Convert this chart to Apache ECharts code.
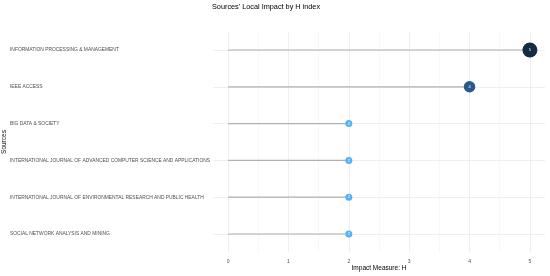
<!DOCTYPE html>
<html>
<head>
    <meta charset="utf-8">
    <script src="https://cdn.jsdelivr.net/npm/echarts@6/dist/echarts.min.js"></script>
    <style>
        html, body { margin: 0; padding: 0; background: #fff; }
        #main { width: 550px; height: 276px; }
    </style>
</head>
<body>
    <div id="main"></div>
    <script>
        // data
        var sources = [
            'INFORMATION PROCESSING & MANAGEMENT',
            'IEEE ACCESS',
            'BIG DATA & SOCIETY',
            'INTERNATIONAL JOURNAL OF ADVANCED COMPUTER SCIENCE AND APPLICATIONS',
            'INTERNATIONAL JOURNAL OF ENVIRONMENTAL RESEARCH AND PUBLIC HEALTH',
            'SOCIAL NETWORK ANALYSIS AND MINING'
        ];
        var hIndex = [5, 4, 2, 2, 2, 2];
        var xTicks = [0, 1, 2, 3, 4, 5];
        var xMinorTicks = [0.5, 1.5, 2.5, 3.5, 4.5];

        // ggplot-like gradient from 2 (light blue) to 5 (navy)
        function dotColor(v) {
            if (v >= 5) return '#132B43';
            if (v >= 4) return '#2A5A86';
            if (v >= 3) return '#3D85BD';
            return '#56B1F7';
        }
        function dotSize(v) {
            if (v >= 5) return 15;
            if (v >= 4) return 11.5;
            return 7;
        }

        var myChart = echarts.init(document.getElementById('main'));

        var option = {
            animation: false,
            backgroundColor: '#fff',
            title: {
                text: "Sources' Local Impact by H index",
                left: 212,
                top: 3,
                padding: 0,
                textStyle: { fontSize: 7.3, fontWeight: 'normal', color: '#000', fontFamily: 'Liberation Sans' }
            },
            // y axis title
            graphic: [{
                type: 'text',
                x: 1,
                y: 142,
                rotation: Math.PI / 2,
                style: {
                    text: 'Sources',
                    fontSize: 6.5,
                    fontFamily: 'Liberation Sans',
                    fill: '#000',
                    align: 'center',
                    verticalAlign: 'top'
                }
            }],
            grid: { left: 213, right: 5, top: 31.6, bottom: 23.6, containLabel: false, outerBoundsMode: 'none' },
            xAxis: [{
                type: 'value',
                min: -0.25,
                max: 5.25,
                name: 'Impact Measure: H',
                nameLocation: 'middle',
                nameGap: 12,
                nameMoveOverlap: false,
                nameTextStyle: { fontSize: 6.5, color: '#000', fontFamily: 'Liberation Sans' },
                axisLine: { show: false },
                axisTick: { show: false, customValues: xTicks },
                axisLabel: { customValues: xTicks, fontSize: 5, color: '#4d4d4d', margin: 7, fontFamily: 'Liberation Sans' },
                splitLine: { show: true, lineStyle: { color: '#ebebeb', width: 0.8 } }
            }, {
                type: 'value',
                min: -0.25,
                max: 5.25,
                position: 'bottom',
                axisLine: { show: false },
                axisTick: { show: false, customValues: xMinorTicks },
                axisLabel: { show: false, customValues: xMinorTicks },
                splitLine: { show: true, lineStyle: { color: '#f4f4f4', width: 0.6 } }
            }],
            yAxis: {
                type: 'category',
                data: sources,
                inverse: true,
                axisLine: { show: false },
                axisTick: { show: false, alignWithLabel: true },
                axisLabel: { align: 'left', margin: 203, fontSize: 4.9, color: '#4d4d4d', fontFamily: 'Liberation Sans' },
                splitLine: { show: true, alignWithLabel: true, lineStyle: { color: '#ebebeb', width: 0.8 } }
            },
            series: [{
                type: 'bar',
                data: hIndex,
                barWidth: 1.2,
                itemStyle: { color: '#b0b0b0' },
                silent: true
            }, {
                type: 'scatter',
                data: hIndex.map(function (v, i) { return [v, sources[i]]; }),
                symbolSize: function (d) { return dotSize(d[0]); },
                itemStyle: {
                    opacity: 1,
                    color: function (p) { return dotColor(p.value[0]); }
                },
                label: {
                    show: true,
                    position: 'inside',
                    formatter: function (p) { return p.value[0]; },
                    fontSize: 4,
                    color: '#fff'
                },
                z: 5
            }]
        };

        myChart.setOption(option);
    </script>
</body>
</html>
